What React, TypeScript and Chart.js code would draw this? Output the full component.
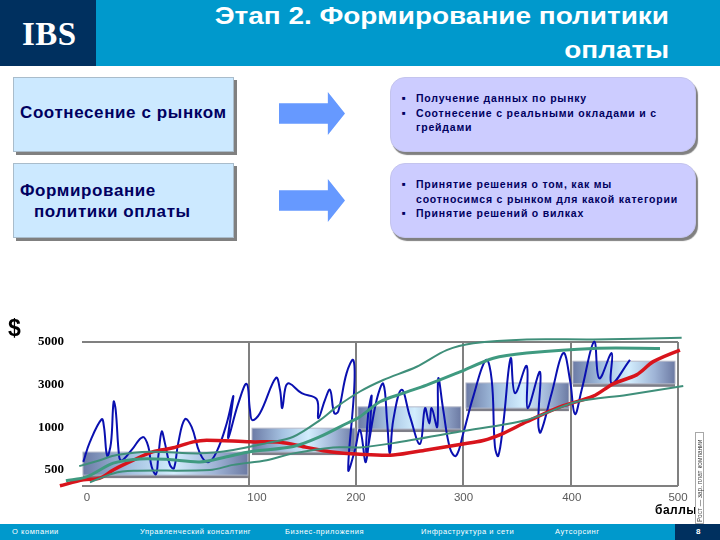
import { useEffect, useRef } from "react"
import { Chart, registerables } from "chart.js"

Chart.register(...registerables)

// x values are points, y values are levels on the schematic pay axis
const xLabels = ["0", "100", "200", "300", "400", "500"]
const xLabelAt = [-51, 107.4, 199.7, 300, 401, 500]
const xGridAt = [100, 200, 300, 400, 500]
const yLabels = ["500", "1000", "3000", "5000"]
const yLevels = [0, 1, 2, 3]
const xMin = -55.7
const xMax = 500
const yMin = -0.375
const yMax = 3

const blueX = [-54.5, -48.3, -37.4, -35.2, -32.2, -28.7, -26.2, -24.3, -21, -18.7, -9.4, 0.9, 6.1, 9.2, 13.3, 15.4, 18.6, 21.6, 26.3, 30, 34, 40.3, 46.5, 54.3, 62, 69.9, 79.2, 85.3, 83.8, 80.7, 90, 97.8, 100.9, 103.1, 110.2, 125.1, 128.9, 131, 134.2, 137.5, 149.1, 163.1, 164.6, 170.8, 175.5, 179.5, 183.2, 191, 197.2, 198.2, 192.5, 198.8, 203.5, 209, 214.4, 211.2, 209.7, 219, 225.2, 228.9, 231.4, 234.5, 242.3, 250.1, 259.4, 264.1, 268.1, 270.3, 275.5, 276.5, 281.1, 287.4, 293, 299.8, 309.1, 321, 326.3, 329.3, 332.4, 337.1, 344, 348, 358.9, 359.8, 371.3, 369.7, 371.9, 382.2, 393, 399.3, 403.9, 410.2, 421.9, 426.6, 438.2, 438.2, 455.2]
const blueY = [0.19, 0.66, 1.19, 1.01, 0.33, 0.63, 1.6, 1.41, 0.31, 0.22, 0.47, 0.77, 0.55, 0.08, -0.1, 0.31, 0.9, 0.63, 0.12, 0.04, 0.63, 1.19, 1.01, 0.39, 0.18, 0.43, 1.09, 1.73, 1.41, 0.75, 1.56, 2.02, 1.41, 1.17, 1.33, 2.16, 1.88, 1.45, 1.95, 2.03, 1.8, 1.66, 1.21, 1.64, 1.88, 1.33, 1.37, 2.27, 2.58, 1.95, 0, 0.47, 0.94, 0.19, 1.73, 1.34, 0.4, 1.64, 2.02, 1.09, 0.39, 1.17, 1.88, 1.25, 0.61, 1.45, 1.09, 1.45, 1.01, 2.15, 1.41, 0.51, 0.33, 0.86, 1.72, 2.58, 2.11, 0.55, 0.33, 1.09, 2.62, 1.8, 2.44, 1.45, 2.3, 1.09, 0.88, 1.8, 2.74, 2.11, 1.31, 1.88, 3.01, 2.15, 2.74, 2.03, 2.58]

const redX = [-76.3, -54.5, -39, -26.6, -7.9, 10.7, 29.4, 48, 60.5, 100.9, 128.9, 153.8, 175.5, 203.5, 234.5, 265.6, 296.7, 318.4, 337.1, 358.9, 390, 421, 439.6, 461.4, 476.9, 501.8, 513.7]
const redY = [-0.37, -0.23, -0.19, 0, 0.23, 0.43, 0.52, 0.66, 0.7, 0.66, 0.65, 0.53, 0.43, 0.37, 0.35, 0.47, 0.6, 0.69, 0.86, 1.13, 1.48, 1.73, 2.02, 2.23, 2.54, 2.81, 2.89]

const midX = [-70.7, -51.4, -26.6, -1.7, 23.2, 54.3, 79.2, 100.9, 141.3, 166.2, 191, 203.5, 222.1, 243.8, 265.6, 296.7, 327.8, 358.9, 421, 483.2]
const midY = [-0.25, -0.16, 0.16, 0.26, 0.25, 0.19, 0.31, 0.43, 0.55, 0.78, 1.09, 1.25, 1.6, 1.8, 1.99, 2.3, 2.62, 2.74, 2.85, 2.85]

const upperX = [-58.3, -39, -23.4, 7.7, 54.3, 85.3, 116.5, 141.3, 166.2, 181.7, 203.5, 225.2, 256.3, 284.3, 309.1, 358.9, 421, 503.4]
const upperY = [0.09, 0.23, 0.35, 0.43, 0.39, 0.47, 0.63, 0.78, 1.17, 1.48, 1.84, 2.11, 2.42, 2.81, 2.97, 3.06, 3.06, 3.1]

const lowerX = [-48.3, -26.6, -7.9, 63.6, 85.3, 116.5, 141.3, 178.6, 203.5, 234.5, 296.7, 358.9, 405.5, 452.1, 504.9]
const lowerY = [-0.29, -0.08, -0.02, 0, 0.12, 0.23, 0.39, 0.53, 0.53, 0.63, 0.9, 1.17, 1.6, 1.76, 1.97]

// pay grades: range of points and range of levels
const gradeFromX = [-54.8, 102.8, 201.6, 302.3, 402]
const gradeToX = [99, 198.8, 297.6, 398.3, 497.2]
const gradeLow = [-0.12, 0.42, 0.96, 1.45, 2.02]
const gradeHigh = [0.42, 0.98, 1.48, 2.04, 2.55]

const zip = (xs: number[], ys: number[]) => xs.map((x, i) => ({ x, y: ys[i] }))

const gradeBoxes = {
  id: "gradeBoxes",
  beforeDatasetsDraw(chart: Chart) {
    const { ctx, scales } = chart
    gradeFromX.forEach((from, i) => {
      const l = scales.x.getPixelForValue(from)
      const r = scales.x.getPixelForValue(gradeToX[i])
      const t = scales.y.getPixelForValue(gradeHigh[i])
      const b = scales.y.getPixelForValue(gradeLow[i])
      const g = ctx.createLinearGradient(l, 0, r, 0)
      g.addColorStop(0, "#6c7ba6")
      g.addColorStop(0.3, "#a6c3e2")
      g.addColorStop(0.55, "#d2edfd")
      g.addColorStop(0.8, "#9fb4d6")
      g.addColorStop(1, "#6c7aa3")
      ctx.save()
      ctx.fillStyle = "#7e7e88"
      ctx.fillRect(l, b - 1, r - l, 4)
      ctx.fillStyle = g
      ctx.fillRect(l, t, r - l, b - t)
      ctx.strokeStyle = "#b4b8c8"
      ctx.lineWidth = 1
      ctx.strokeRect(l, t, r - l, b - t)
      ctx.restore()
    })
  },
}

const sans = "'Liberation Sans', Arial, sans-serif"
const navy = "#000060"

const box = (left: number, top: number, width: number, height: number): React.CSSProperties => ({
  position: "absolute",
  left,
  top,
  width,
  height,
  boxSizing: "border-box",
})

function textAt(left: number, top: number): React.CSSProperties {
  return { position: "absolute", left, top, whiteSpace: "nowrap", fontFamily: sans, color: navy, lineHeight: "14px" }
}

function Arrow({ top }: { top: number }) {
  return (
    <div
      style={{
        ...box(279, top, 66, 43),
        background: "#6699ff",
        clipPath: "polygon(0 26%, 74% 26%, 74% 0, 100% 50%, 74% 100%, 74% 74%, 0 74%)",
      }}
    />
  )
}

function LeftCard({ top }: { top: number }) {
  return (
    <div
      style={{
        ...box(13, top, 221, 75),
        background: "#cce9ff",
        border: "1px solid #a9bccb",
        boxShadow: "3px 3px 0 #808080",
      }}
    />
  )
}

function RightCard({ top, lines }: { top: number; lines: [string, boolean][] }) {
  return (
    <div
      style={{
        ...box(390, top, 306, 75),
        background: "#ccccff",
        borderRadius: 15,
        border: "1px solid #c4c4ee",
        boxShadow: "2px 3px 1px #808080",
      }}
    >
      {lines.map(([text, bullet], i) => (
        <div key={i}>
          {bullet && <span style={{ ...textAt(11, 13 + i * 14.5), fontSize: 6 }}>■</span>}
          <span style={{ ...textAt(25, 13 + i * 14.5), fontSize: 10.5, fontWeight: "bold", color: navy, letterSpacing: 0.8 }}>{text}</span>
        </div>
      ))}
    </div>
  )
}

const footerItems: [string, number][] = [
  ["О компании", 12],
  ["Управленческий консалтинг", 140],
  ["Бизнес-приложения", 285],
  ["Инфраструктура и сети", 421],
  ["Аутсорсинг", 555],
]

export default function App() {
  const canvasRef = useRef<HTMLCanvasElement>(null)

  useEffect(() => {
    if (!canvasRef.current) return

    const line = (xs: number[], ys: number[], color: string, width: number, tension: number) => ({
      type: "line" as const,
      data: zip(xs, ys),
      borderColor: color,
      borderWidth: width,
      pointRadius: 0,
      tension,
      fill: false,
      clip: false as const,
    })

    // first dataset ends up on top
    const chart = new Chart(canvasRef.current, {
      type: "line",
      data: {
        datasets: [
          line(upperX, upperY, "#3f8f7a", 2, 0.3),
          line(lowerX, lowerY, "#3f8f7a", 2, 0.3),
          line(midX, midY, "#3f9a80", 3, 0.3),
          line(redX, redY, "#d8141c", 3.5, 0.3),
          line(blueX, blueY, "#0a10b0", 2, 0.4),
        ],
      },
      options: {
        responsive: false,
        animation: false,
        layout: { padding: { top: 342, right: 42, left: 0, bottom: 0 } },
        plugins: { legend: { display: false }, tooltip: { enabled: false } },
        scales: {
          x: {
            type: "linear",
            min: xMin,
            max: xMax,
            border: { display: false },
            grid: { display: false, drawTicks: false },
            afterBuildTicks: (axis) => {
              axis.ticks = xLabelAt.map((value) => ({ value }))
            },
            afterFit: (axis) => {
              axis.height = 54
            },
            ticks: {
              autoSkip: false,
              maxRotation: 0,
              padding: 5,
              color: "#5a5a5a",
              font: { family: sans, size: 11.5 },
              callback: (_v, i) => xLabels[i],
            },
          },
          xGrid: {
            type: "linear",
            position: "bottom",
            min: xMin,
            max: xMax,
            border: { display: false },
            grid: { color: "#808080", lineWidth: 2, drawTicks: false },
            afterBuildTicks: (axis) => {
              axis.ticks = xGridAt.map((value) => ({ value }))
            },
            afterFit: (axis) => {
              axis.height = 0
            },
            ticks: { display: false },
          },
          y: {
            type: "linear",
            min: yMin,
            max: yMax,
            border: { display: false },
            grid: {
              drawTicks: false,
              lineWidth: 2,
              color: (c) => (c.tick && (c.tick.value === yMin || c.tick.value === yMax) ? "#808080" : "transparent"),
            },
            afterBuildTicks: (axis) => {
              axis.ticks = [yMin, ...yLevels].map((value) => ({ value }))
            },
            afterFit: (axis) => {
              axis.width = 82
            },
            ticks: {
              autoSkip: false,
              padding: 18,
              color: "#000000",
              font: { family: "'Liberation Serif', serif", size: 13, weight: "bold" },
              callback: (v) => {
                const i = yLevels.indexOf(Number(v))
                return i < 0 ? "" : yLabels[i]
              },
            },
          },
        },
      },
      plugins: [gradeBoxes],
    })

    return () => chart.destroy()
  }, [])

  return (
    <div style={{ position: "fixed", inset: 0, width: 720, height: 540, background: "#fff", overflow: "hidden", fontFamily: sans }}>
      <div style={{ ...box(0, 0, 720, 66), background: "#0099cc" }} />
      <div style={{ ...box(0, 0, 96, 66), background: "#00305f" }} />
      <div style={{ ...textAt(22, 21), color: "#fff", fontFamily: "'Liberation Serif', serif", fontWeight: "bold", fontSize: 33, lineHeight: "26px", letterSpacing: 0.5 }}>IBS</div>
      <div
        style={{
          ...box(100, -1, 569, 66),
          color: "#fff",
          fontFamily: sans,
          fontWeight: "bold",
          fontSize: 23,
          lineHeight: "34px",
          textAlign: "right",
          transform: "scaleX(1.215)",
          transformOrigin: "right top",
        }}
      >
        Этап 2. Формирование политики
        <br />
        оплаты
      </div>

      <LeftCard top={77} />
      <LeftCard top={163} />
      <div style={{ ...textAt(20, 106), fontSize: 17, fontWeight: "bold", letterSpacing: 0.6 }}>Соотнесение с рынком</div>
      <div style={{ ...textAt(20, 184), fontSize: 17, fontWeight: "bold", letterSpacing: 0.6 }}>Формирование</div>
      <div style={{ ...textAt(34, 205), fontSize: 17, fontWeight: "bold", letterSpacing: 0.6 }}>политики оплаты</div>

      <Arrow top={92} />
      <Arrow top={179} />

      <RightCard
        top={77}
        lines={[
          ["Получение данных по рынку", true],
          ["Соотнесение с реальными окладами и с", true],
          ["грейдами", false],
        ]}
      />
      <RightCard
        top={163}
        lines={[
          ["Принятие решения о том, как мы", true],
          ["соотносимся с рынком для какой категории", false],
          ["Принятие решений о вилках", true],
        ]}
      />

      <canvas ref={canvasRef} width={720} height={540} style={{ position: "absolute", left: 0, top: 0 }} />

      <div style={{ ...textAt(8, 316), color: "#000", fontWeight: "bold", fontSize: 23, lineHeight: "24px" }}>$</div>
      <div style={{ ...textAt(655, 503), color: "#000", fontWeight: "bold", fontSize: 12, letterSpacing: 0.5 }}>баллы</div>

      <div style={{ ...box(0, 524, 720, 16), background: "#0099cc" }} />
      <div style={{ ...box(675, 524, 45, 16), background: "#00305f" }} />
      {footerItems.map(([text, left]) => (
        <div key={text} style={{ ...textAt(left, 525), color: "#fff", fontSize: 7.5, letterSpacing: 0.55 }}>
          {text}
        </div>
      ))}
      <div style={{ ...textAt(696, 525), color: "#fff", fontSize: 8, fontWeight: "bold" }}>8</div>

      <div style={{ ...box(695, 432, 9, 92), background: "#fff", border: "1px solid #a8a8a8" }}>
        <div
          style={{
            position: "absolute",
            left: 0,
            bottom: 1,
            whiteSpace: "nowrap",
            fontFamily: sans,
            fontSize: 6.5,
            lineHeight: "7px",
            color: "#444",
            transformOrigin: "left bottom",
            transform: "translateX(7px) rotate(-90deg)",
          }}
        >
          Рост — зар. плат компании
        </div>
      </div>
    </div>
  )
}
